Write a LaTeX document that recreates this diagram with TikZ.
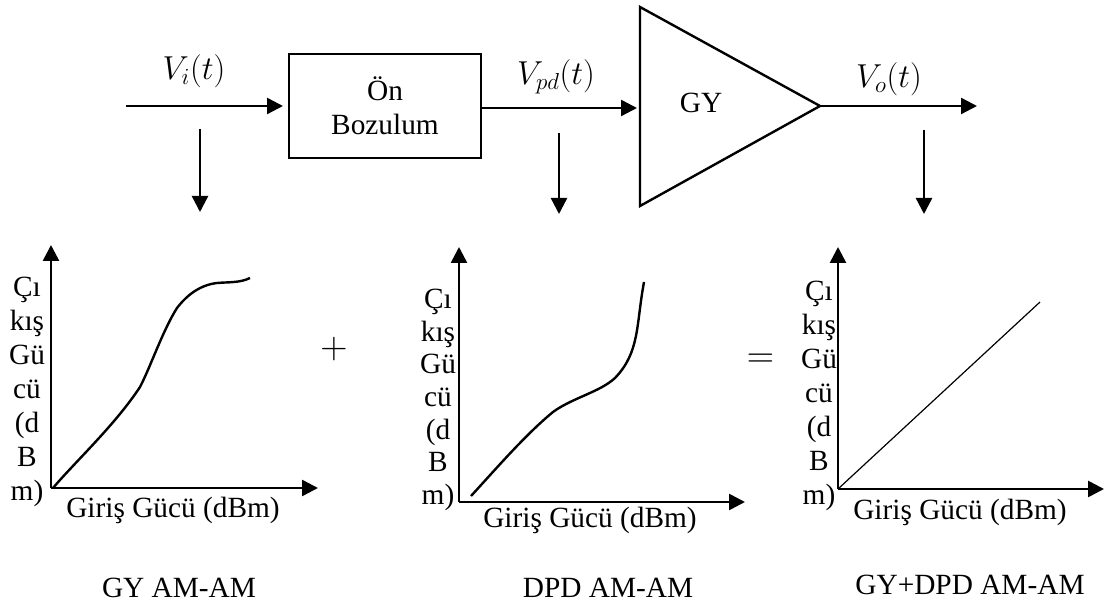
\documentclass[tikz,border=0pt]{standalone}
\usepackage{amsmath}
\usepackage{fontspec}
\setmainfont{Liberation Serif}
\usepackage{tikz}
\usetikzlibrary{positioning, arrows.meta}
\begin{document}
\begin{tikzpicture}[
  x=0.75pt, y=-0.75pt,
  every node/.style={font=\fontsize{22}{25.5}\selectfont, inner sep=0pt},
  arr/.style={-{Triangle[length=12pt, width=12pt]}, line width=1.8pt},
  axis/.style={-{Triangle[length=12pt, width=12pt]}, line width=2pt},
  blk/.style={draw, line width=1.8pt, align=center},
  curve/.style={line width=1.8pt},
  ylab/.style={align=center},
  sig/.style={font=\fontsize{26}{26}\selectfont},
  sym/.style={font=\fontsize{25}{25}\selectfont, scale=1.14}
]
\useasboundingbox (0,0) rectangle (1107,605);
% upper chain
\coordinate (in) at (126,106);
\node[blk, minimum width=144pt, minimum height=78pt] (pd) at (385,106) {Ön\\Bozulum};
\coordinate (pdin) at (283,106);
\coordinate (pdout) at (481,108);
\coordinate (gyin) at (637,108);
\coordinate (ga) at (640,7);
\coordinate (gb) at (640,206);
\coordinate (gc) at (820,106);
\draw[line width=1.8pt, line join=miter] (ga) -- (gb) -- (gc) -- cycle;
\node (gy) at (701,103) {GY};
\coordinate (out) at (977,106);
\draw[arr] (in) -- (pdin);
\draw[arr] (pdout) -- (gyin);
\draw[arr] (gc) -- (out);
\node[sig] (vi) at (194,71) {$V_i(t)$};
\node[sig] (vpd) at (556,77) {$V_{pd}(t)$};
\node[sig] (vo) at (889,79) {$V_o(t)$};
% taps
\coordinate (t1a) at (200,129);
\coordinate (t1b) at (200,212);
\coordinate (t2a) at (559,133);
\coordinate (t2b) at (559,214);
\coordinate (t3a) at (924,130);
\coordinate (t3b) at (924,214);
\draw[arr] (t1a) -- (t1b);
\draw[arr] (t2a) -- (t2b);
\draw[arr] (t3a) -- (t3b);
% left plot
\coordinate (o1) at (51,488);
\coordinate (o1y) at (51,245);
\coordinate (o1x) at (318,488);
\draw[axis] (o1) -- (o1y);
\draw[axis] (o1) -- (o1x);
\draw[curve] (53,488) .. controls (75,462) and (115,425) .. (140,387)
  .. controls (150,368) and (163,330) .. (177,308)
  .. controls (187,295) and (200,285) .. (217,283)
  .. controls (228,282) and (240,283) .. (250,278);
\node[ylab] (y1) at (27,392) {Çı\\kış\\Gü\\cü\\(d\\B\\m)};
\node (x1) at (173,510) {Giriş Gücü (dBm)};
\node (c1) at (179,588) {GY AM-AM};
\node[sym] (plus) at (334,349) {$+$};
% middle plot
\coordinate (o2) at (459,502);
\coordinate (o2y) at (459,247);
\coordinate (o2x) at (745,502);
\draw[axis] (o2) -- (o2y);
\draw[axis] (o2) -- (o2x);
\draw[curve] (471,496) .. controls (495,470) and (525,435) .. (553,412)
  .. controls (572,398) and (600,392) .. (615,378)
  .. controls (640,352) and (636,325) .. (644,282);
\node[ylab, font=\fontsize{22}{24.5}\selectfont] (y2) at (438,400) {Çı\\kış\\Gü\\cü\\(d\\B\\m)};
\node (x2) at (590,520) {Giriş Gücü (dBm)};
\node (c2) at (608,588) {DPD AM-AM};
\node[sym] (eq) at (760.5,360.5) {$=$};
% right plot
\coordinate (o3) at (838,489);
\coordinate (o3y) at (838,247);
\coordinate (o3x) at (1104,489);
\coordinate (d3) at (1040,302);
\draw[axis] (o3) -- (o3y);
\draw[axis] (o3) -- (o3x);
\draw[line width=0.9pt] (o3) -- (d3);
\node[ylab] (y3) at (819,396) {Çı\\kış\\Gü\\cü\\(d\\B\\m)};
\node (x3) at (960,512) {Giriş Gücü (dBm)};
\node (c3) at (970,585) {GY+DPD AM-AM};
\end{tikzpicture}
\end{document}
